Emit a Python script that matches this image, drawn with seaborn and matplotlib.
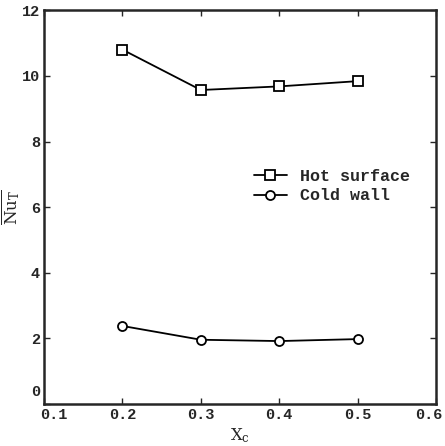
import pandas as pd
import matplotlib
matplotlib.use("Agg")
import matplotlib.pyplot as plt
import matplotlib.transforms as mtransforms
import seaborn as sns

# valores
xc = [0.2, 0.3, 0.4, 0.5]
nu_quente = [10.8, 9.57, 9.68, 9.84]
nu_fria = [2.38, 1.96, 1.92, 1.98]

df = pd.DataFrame({
    "Xc": xc * 2,
    "Nu": nu_quente + nu_fria,
    "Serie": ["Hot surface"] * 4 + ["Cold wall"] * 4,
})

sns.set_style("ticks")
plt.rcParams["font.family"] = ["Liberation Mono", "DejaVu Sans"]
plt.rcParams["mathtext.fontset"] = "dejavuserif"

fig = plt.figure(figsize=(4.45, 4.46), dpi=100)
ax = fig.add_axes([0.099, 0.094, 0.881, 0.883])

marcadores = {"Hot surface": "s", "Cold wall": "o"}
for serie in ["Hot surface", "Cold wall"]:
    sns.lineplot(data=df[df["Serie"] == serie], x="Xc", y="Nu", ax=ax,
                 color="black", linewidth=1.3, marker=marcadores[serie],
                 markersize=6.5, markerfacecolor="white", markeredgecolor="black",
                 markeredgewidth=1.3, label=serie)

ax.set_xlim(0.1, 0.6)
ax.set_ylim(0, 12)
ax.set_xticks([0.1, 0.2, 0.3, 0.4, 0.5, 0.6])
ax.set_xticklabels(["0.1", "0.2", "0.3", "0.4", "0.5", "0.6"])
ax.set_yticks([0, 2, 4, 6, 8, 10, 12])
ax.tick_params(direction="in", top=True, right=True, length=4, width=1,
               labelsize=11, pad=3)
for t in ax.get_xticklabels() + ax.get_yticklabels():
    t.set_fontweight("bold")

# rótulos das pontas um pouco deslocados, como no original
xl = ax.get_xticklabels()
xl[0].set_transform(xl[0].get_transform() + mtransforms.ScaledTranslation(0.1, 0, fig.dpi_scale_trans))
xl[-1].set_transform(xl[-1].get_transform() + mtransforms.ScaledTranslation(-0.07, 0, fig.dpi_scale_trans))
yl = ax.get_yticklabels()
yl[0].set_transform(yl[0].get_transform() + mtransforms.ScaledTranslation(0, 0.14, fig.dpi_scale_trans))

for lado in ax.spines.values():
    lado.set_linewidth(1.8)

ax.set_xlabel(r"X$_\mathrm{c}$", fontsize=12, family="DejaVu Serif", labelpad=3)
ax.set_ylabel(r"$\overline{\mathrm{Nu_T}}$", fontsize=12, labelpad=0)
ax.yaxis.set_label_coords(-0.055, 0.5)

leg = ax.legend(loc="center left", bbox_to_anchor=(0.535, 0.553), frameon=False,
                fontsize=12, handlelength=2.0, handletextpad=0.8,
                labelspacing=0.25, borderaxespad=0, borderpad=0)
for t in leg.get_texts():
    t.set_fontweight("bold")

fig.savefig("out.png", dpi=100)
